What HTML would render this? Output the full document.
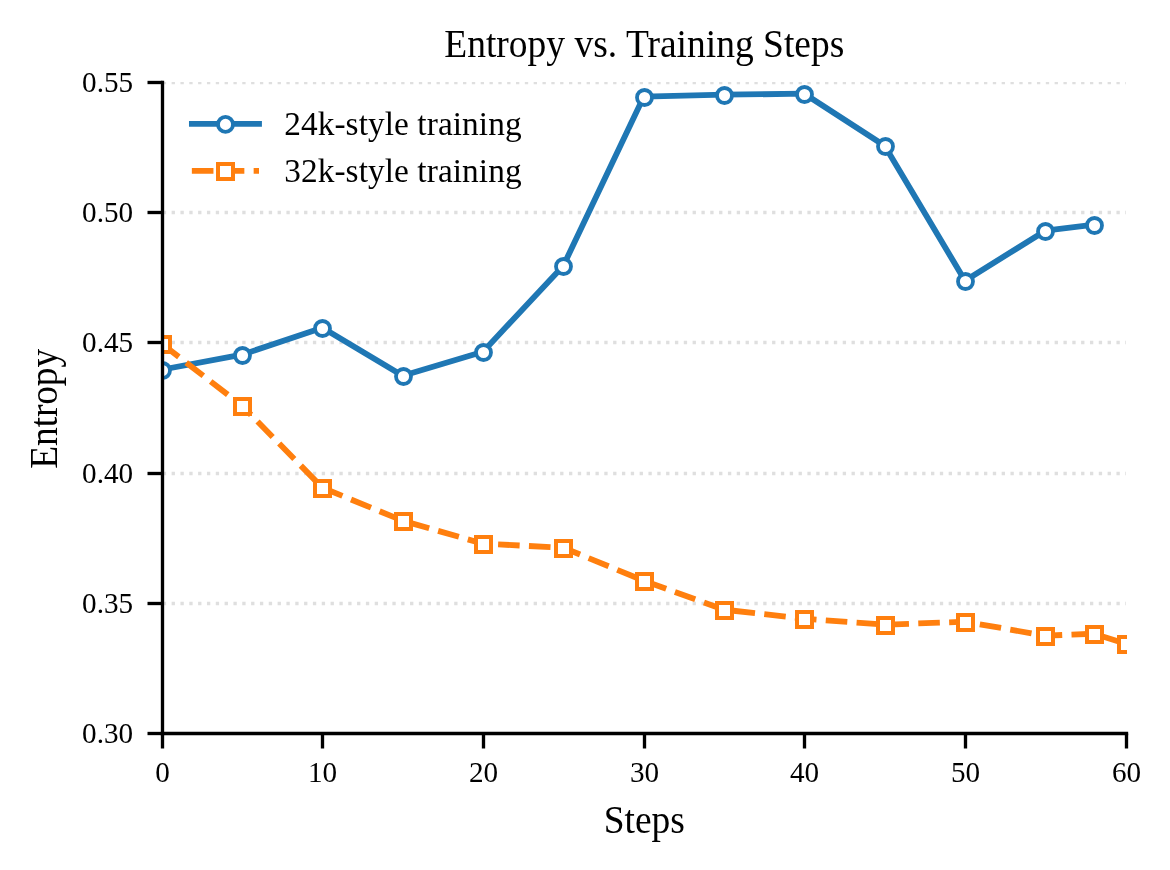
<!DOCTYPE html>
<html><head><meta charset="utf-8"><title>Entropy vs. Training Steps</title><style>
html,body{margin:0;padding:0;background:#fff;overflow:hidden;}
svg{display:block;will-change:transform;}
text{font-family:"Liberation Serif",serif;fill:#000;}
</style></head><body>
<svg width="1170" height="870" viewBox="0 0 1170 870">
<defs><clipPath id="ax"><rect x="162" y="82" width="965" height="652"/></clipPath></defs>
<rect width="1170" height="870" fill="#fff"/>
<g stroke="#dfdfdf" stroke-width="3.33" stroke-dasharray="3.33 5.5" stroke-dashoffset="-0.3" fill="none" clip-path="url(#ax)">
<line x1="162.5" y1="82.5" x2="1126.0" y2="82.5"/>
<line x1="162.5" y1="212.5" x2="1126.0" y2="212.5"/>
<line x1="162.5" y1="342.5" x2="1126.0" y2="342.5"/>
<line x1="162.5" y1="473.5" x2="1126.0" y2="473.5"/>
<line x1="162.5" y1="603.5" x2="1126.0" y2="603.5"/>
</g>
<g clip-path="url(#ax)">
<polyline points="161.75,369.70 242.07,354.70 322.40,327.70 402.73,375.70 483.05,351.70 563.38,265.70 643.70,96.70 724.03,94.70 804.35,93.70 884.68,145.70 965.00,280.70 1045.33,230.70 1093.52,224.70" fill="none" stroke="#1f77b4" stroke-width="5.83" stroke-linejoin="round" stroke-linecap="square"/>
<g fill="#fff" stroke="#1f77b4" stroke-width="3.8">
<circle cx="162.5" cy="370.5" r="7.5"/>
<circle cx="242.5" cy="355.5" r="7.5"/>
<circle cx="322.5" cy="328.5" r="7.5"/>
<circle cx="403.5" cy="376.5" r="7.5"/>
<circle cx="483.5" cy="352.5" r="7.5"/>
<circle cx="563.5" cy="266.5" r="7.5"/>
<circle cx="644.5" cy="97.5" r="7.5"/>
<circle cx="724.5" cy="95.5" r="7.5"/>
<circle cx="804.5" cy="94.5" r="7.5"/>
<circle cx="885.5" cy="146.5" r="7.5"/>
<circle cx="965.5" cy="281.5" r="7.5"/>
<circle cx="1045.5" cy="231.5" r="7.5"/>
<circle cx="1094.5" cy="225.5" r="7.5"/>
</g>
<polyline points="161.75,343.70 242.07,405.70 322.40,487.70 402.73,520.70 483.05,543.70 563.38,547.70 643.70,580.70 724.03,609.70 804.35,618.70 884.68,624.70 965.00,621.70 1045.33,635.70 1093.52,633.70 1125.65,643.70" fill="none" stroke="#ff7f0e" stroke-width="5.83" stroke-linejoin="round" stroke-linecap="butt" stroke-dasharray="21.6 9.3"/>
<g fill="#fff" stroke="#ff7f0e" stroke-width="4">
<rect x="155.0" y="337.0" width="15" height="15"/>
<rect x="235.0" y="399.0" width="15" height="15"/>
<rect x="315.0" y="481.0" width="15" height="15"/>
<rect x="396.0" y="514.0" width="15" height="15"/>
<rect x="476.0" y="537.0" width="15" height="15"/>
<rect x="556.0" y="541.0" width="15" height="15"/>
<rect x="637.0" y="574.0" width="15" height="15"/>
<rect x="717.0" y="603.0" width="15" height="15"/>
<rect x="797.0" y="612.0" width="15" height="15"/>
<rect x="878.0" y="618.0" width="15" height="15"/>
<rect x="958.0" y="615.0" width="15" height="15"/>
<rect x="1038.0" y="629.0" width="15" height="15"/>
<rect x="1087.0" y="627.0" width="15" height="15"/>
<rect x="1119.0" y="637.0" width="15" height="15"/>
</g></g>
<g stroke="#000" stroke-width="3.33" fill="none">
<line x1="162.5" y1="80.83" x2="162.5" y2="735.17"/>
<line x1="160.83" y1="733.5" x2="1128.17" y2="733.5"/>
<line x1="147.5" y1="82.5" x2="162.5" y2="82.5"/>
<line x1="147.5" y1="212.5" x2="162.5" y2="212.5"/>
<line x1="147.5" y1="342.5" x2="162.5" y2="342.5"/>
<line x1="147.5" y1="473.5" x2="162.5" y2="473.5"/>
<line x1="147.5" y1="603.5" x2="162.5" y2="603.5"/>
<line x1="147.5" y1="733.5" x2="162.5" y2="733.5"/>
<line x1="162.5" y1="733.5" x2="162.5" y2="748.5"/>
<line x1="322.5" y1="733.5" x2="322.5" y2="748.5"/>
<line x1="483.5" y1="733.5" x2="483.5" y2="748.5"/>
<line x1="644.5" y1="733.5" x2="644.5" y2="748.5"/>
<line x1="804.5" y1="733.5" x2="804.5" y2="748.5"/>
<line x1="965.5" y1="733.5" x2="965.5" y2="748.5"/>
<line x1="1126.5" y1="733.5" x2="1126.5" y2="748.5"/>
</g>
<g font-size="29.17" text-anchor="end">
<text x="133.1" y="91.7">0.55</text>
<text x="133.1" y="221.7">0.50</text>
<text x="133.1" y="351.7">0.45</text>
<text x="133.1" y="482.7">0.40</text>
<text x="133.1" y="612.7">0.35</text>
<text x="133.1" y="742.7">0.30</text>
</g>
<g font-size="29.17" text-anchor="middle">
<text x="162.5" y="781.6">0</text>
<text x="322.5" y="781.6">10</text>
<text x="483.5" y="781.6">20</text>
<text x="644.5" y="781.6">30</text>
<text x="804.5" y="781.6">40</text>
<text x="965.5" y="781.6">50</text>
<text x="1126.5" y="781.6">60</text>
</g>
<text transform="translate(644.3 56.8) scale(1 1.04)" font-size="37.5" text-anchor="middle">Entropy vs. Training Steps</text>
<text transform="translate(644.3 832.5) scale(1 1.04)" font-size="37.5" text-anchor="middle">Steps</text>
<text transform="translate(57.0 468.7) rotate(-90) scale(1 1.04)" font-size="37.5" textLength="119.9" lengthAdjust="spacing">Entropy</text>
<line x1="191.9" y1="123.8" x2="259.0" y2="123.8" stroke="#1f77b4" stroke-width="5.83" stroke-linecap="square"/>
<circle cx="225.5" cy="124.4" r="7.5" fill="#fff" stroke="#1f77b4" stroke-width="3.8"/>
<line x1="191.85" y1="170.9" x2="259.0" y2="170.9" stroke="#ff7f0e" stroke-width="5.83" stroke-dasharray="21.6 9.3"/>
<rect x="218" y="164" width="15" height="15" fill="#fff" stroke="#ff7f0e" stroke-width="4"/>
<g font-size="33.33"><text transform="translate(284.2 134.9) scale(1 1.04)" textLength="237.4" lengthAdjust="spacing">24k-style training</text><text transform="translate(284.2 181.8) scale(1 1.04)" textLength="237.4" lengthAdjust="spacing">32k-style training</text></g>
</svg></body></html>
